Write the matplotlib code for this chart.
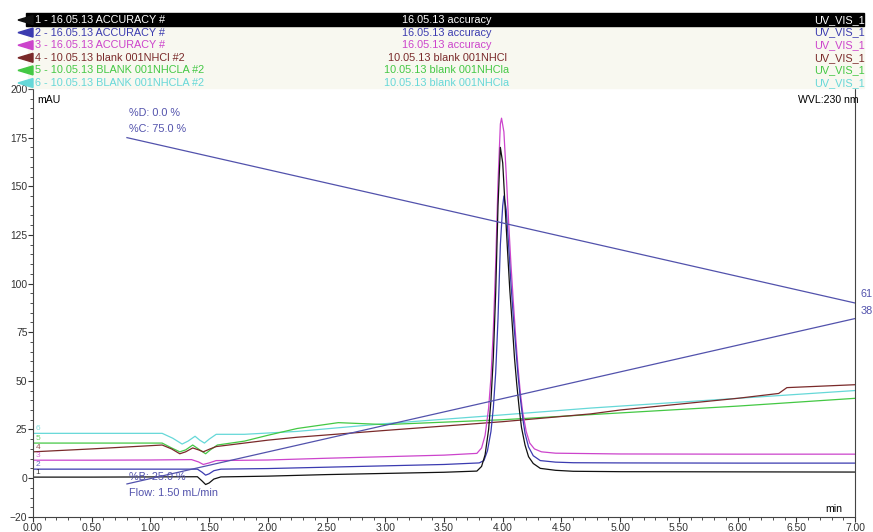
"""Chromatogram overlay: accuracy runs vs. blanks at 230 nm."""

import matplotlib.pyplot as plt
from matplotlib.patches import Rectangle, Polygon
from matplotlib.ticker import MultipleLocator

plt.rcParams["font.family"] = ["Liberation Sans", "DejaVu Sans"]

# trace 1 - black accuracy
t1 = [0.00, 0.50, 1.00, 1.40, 1.44, 1.47, 1.50, 1.54, 1.60, 2.00, 2.50, 3.00,
      3.50, 3.78, 3.82, 3.85, 3.88, 3.90, 3.92, 3.94, 3.96, 3.98, 4.00, 4.02,
      4.04, 4.06, 4.08, 4.10, 4.12, 4.14, 4.16, 4.19, 4.22, 4.26, 4.32, 4.45,
      4.60, 5.00, 6.00, 7.00]
y1 = [0.5, 0.5, 0.6, 0.7, -1.5, -3.3, -2.5, -0.5, 0.6, 1.0, 1.8, 2.4,
      3.0, 3.6, 6, 12, 25, 40, 62, 95, 140, 170, 162, 140,
      118, 97, 80, 62, 48, 36, 26, 17, 11, 7.5, 5, 4,
      3.5, 3.3, 3.2, 3.1]

# trace 2 - blue accuracy
t2 = [0.00, 0.50, 1.00, 1.40, 1.44, 1.47, 1.50, 1.54, 1.60, 2.00, 2.50, 3.00,
      3.50, 3.80, 3.84, 3.87, 3.90, 3.92, 3.94, 3.96, 3.98, 4.00, 4.01, 4.03,
      4.05, 4.07, 4.09, 4.11, 4.13, 4.15, 4.17, 4.19, 4.22, 4.26, 4.32, 4.45,
      4.60, 5.00, 6.00, 7.00]
y2 = [4.6, 4.6, 4.6, 4.6, 3.0, 1.5, 2.2, 3.8, 4.6, 4.9, 5.6, 6.3,
      7.0, 7.8, 9, 14, 24, 36, 54, 82, 120, 140, 145, 138,
      120, 100, 83, 68, 53, 41, 31, 23, 16, 11.5, 9, 8.2,
      7.9, 7.8, 7.7, 7.7]

# trace 3 - magenta accuracy
t3 = [0.00, 0.50, 1.00, 1.35, 1.41, 1.45, 1.50, 1.56, 2.00, 2.50, 3.00, 3.50,
      3.78, 3.82, 3.85, 3.88, 3.90, 3.92, 3.94, 3.96, 3.98, 3.99, 4.01, 4.03,
      4.05, 4.07, 4.09, 4.11, 4.13, 4.15, 4.17, 4.20, 4.23, 4.27, 4.33, 4.45,
      5.00, 6.00, 7.00]
y3 = [9.2, 9.2, 9.3, 9.5, 8.3, 7.0, 7.8, 9.0, 9.3, 10.2, 11.0, 11.8,
      12.7, 15.5, 22, 36, 52, 76, 110, 152, 182, 185, 178, 156,
      132, 110, 91, 73, 57, 44, 34, 24, 18, 15, 13.5, 12.8,
      12.4, 12.3, 12.3]

# trace 4 - brown blank
t4 = [0.00, 0.50, 1.10, 1.18, 1.25, 1.30, 1.36, 1.41, 1.45, 1.50, 1.56, 2.00,
      2.25, 3.00, 4.00, 4.75, 5.00, 6.00, 6.35, 6.42, 7.00]
y4 = [13.5, 15.0, 17.0, 15.0, 12.5, 13.5, 15.5, 14.5, 13.5, 14.8, 16.2, 19.5,
      21.0, 24.5, 29.0, 33.0, 35.0, 41.0, 43.5, 46.5, 48.0]

# trace 5 - green blank
t5 = [0.00, 0.50, 1.10, 1.18, 1.25, 1.30, 1.36, 1.42, 1.47, 1.51, 1.57, 1.80,
      2.00, 2.25, 2.60, 3.00, 4.00, 5.00, 6.00, 7.00]
y5 = [18.0, 18.0, 18.0, 15.5, 13.5, 14.5, 17.0, 14.5, 12.5, 14.5, 17.0, 19.0,
      22.0, 25.5, 28.5, 27.5, 30.0, 33.5, 37.0, 41.0]

# trace 6 - cyan blank
t6 = [0.00, 0.50, 1.10, 1.19, 1.27, 1.32, 1.38, 1.42, 1.46, 1.50, 1.56, 1.80,
      2.25, 3.00, 4.00, 4.75, 6.00, 7.00]
y6 = [23.0, 23.0, 23.0, 20.5, 17.5, 19.0, 21.5, 19.5, 18.0, 20.0, 22.5, 22.5,
      24.0, 28.0, 32.5, 36.0, 41.0, 45.0]

# gradient program lines
grad_t = [0.80, 7.00]
grad_c = [175, 90]
grad_b = [-3, 82]

colors = ["#111111", "#3b3bb0", "#cc44cc", "#7a2a2a", "#44c844", "#66d8d8"]
names = ["1 - 16.05.13 ACCURACY #", "2 - 16.05.13 ACCURACY #",
         "3 - 16.05.13 ACCURACY #", "4 - 10.05.13 blank 001NHCl #2",
         "5 - 10.05.13 BLANK 001NHCLA #2", "6 - 10.05.13 BLANK 001NHCLA #2"]
samples = ["16.05.13 accuracy", "16.05.13 accuracy", "16.05.13 accuracy",
           "10.05.13 blank 001NHCl", "10.05.13 blank 001NHCla",
           "10.05.13 blank 001NHCla"]
channels = ["UV_VIS_1"] * 6
grad_color = "#5252ac"

fig = plt.figure(figsize=(8.73, 5.32), dpi=100)
ax = fig.add_axes([33 / 873, 15 / 532, 822 / 873, 428 / 532])

series = [(t1, y1), (t2, y2), (t3, y3), (t4, y4), (t5, y5), (t6, y6)]
for (t, y), c in zip(series[::-1], colors[::-1]):
    ax.plot(t, y, color=c, linewidth=0.9)
for i, ((t, y), c) in enumerate(zip(series, colors)):
    ax.text(0.02, y[0] + 1.5, str(i + 1), color=c, fontsize=6, alpha=0.8)

ax.plot(grad_t, grad_c, color=grad_color, linewidth=0.9)
ax.plot(grad_t, grad_b, color=grad_color, linewidth=0.9)
gkw = dict(color=grad_color, fontsize=7.8, va="center")
ax.text(0.82, 187.5, "%D: 0.0 %", **gkw)
ax.text(0.82, 179.5, "%C: 75.0 %", **gkw)
ax.text(0.82, 0.5, "%B: 25.0 %", **gkw)
ax.text(0.82, -7.5, "Flow: 1.50 mL/min", **gkw)
ax.text(7.05, 94.5, "61", clip_on=False, **gkw)
ax.text(7.05, 86, "38", clip_on=False, **gkw)

ax.set_xlim(0, 7)
ax.set_ylim(-20, 200)
ax.set_yticks([-20, 0, 25, 50, 75, 100, 125, 150, 175, 200])
ax.yaxis.set_minor_locator(MultipleLocator(5))
ax.xaxis.set_major_locator(MultipleLocator(0.5))
ax.xaxis.set_minor_locator(MultipleLocator(0.1))
ax.xaxis.set_major_formatter(lambda v, p: f"{v:.2f}")
ax.tick_params(which="major", length=3.5, width=0.8, labelsize=7.4, pad=0.5,
               colors="#333333")
ax.tick_params(which="minor", length=2, width=0.6, colors="#333333")
ax.spines["top"].set_visible(False)
for s in ["left", "bottom", "right"]:
    ax.spines[s].set_color("#444444")
    ax.spines[s].set_linewidth(0.8)
ax.text(0.005, 0.985, "mAU", transform=ax.transAxes, fontsize=7.6, va="top")
ax.text(0.985, 0.012, "min", transform=ax.transAxes, fontsize=7.6, ha="right")
ax.text(1.005, 0.985, "WVL:230 nm", transform=ax.transAxes, fontsize=7.6,
        ha="right", va="top")

# header legend drawn in pixel coordinates
hd = fig.add_axes([0, 0, 1, 1], zorder=5)
hd.set_xlim(0, 873)
hd.set_ylim(532, 0)
hd.axis("off")
hd.add_patch(Rectangle((28, 26), 836, 62, color="#f8f8f0", zorder=1))
hd.add_patch(Rectangle((26, 13), 838, 13, color="black", zorder=1))
for i in range(6):
    yc = 20 + 12.6 * i
    hd.add_patch(Polygon([[18, yc], [33, yc - 4.5], [33, yc + 4.5]],
                         color=colors[i], zorder=2))
    tc = "white" if i == 0 else colors[i]
    hd.text(35, yc, names[i], color=tc, fontsize=7.8, va="center", zorder=3)
    hd.text(447, yc, samples[i], color=tc, fontsize=7.8, va="center",
            ha="center", zorder=3)
    hd.text(814, yc, channels[i], color=tc, fontsize=7.8, va="center",
            zorder=3)

fig.savefig("out.png", dpi=100)
